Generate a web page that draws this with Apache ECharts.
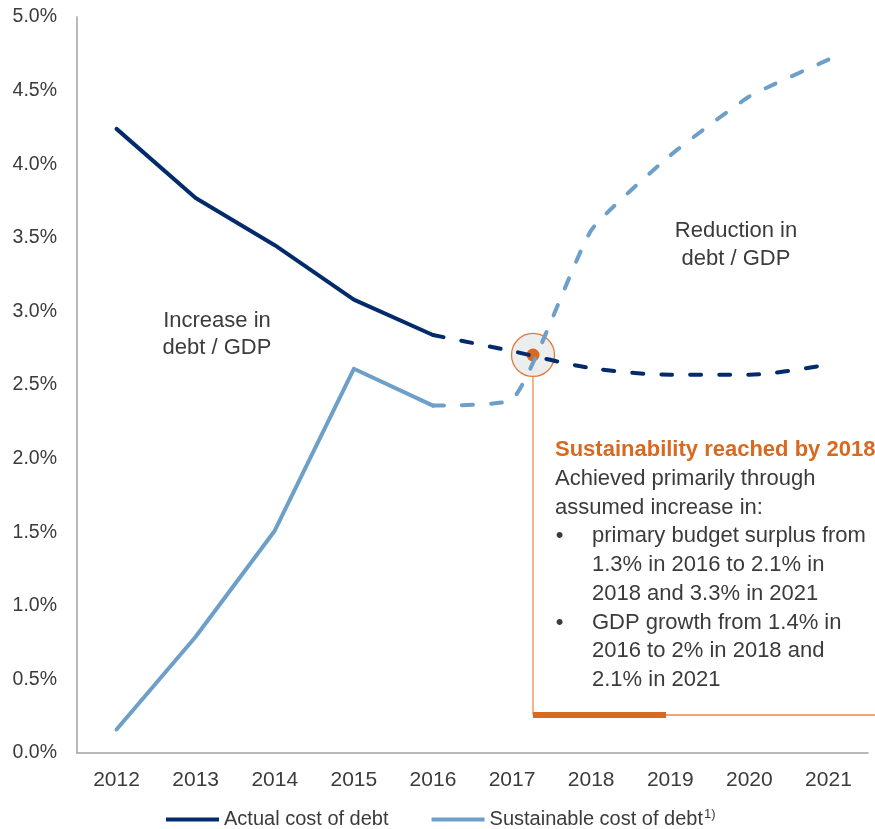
<!DOCTYPE html>
<html>
<head>
<meta charset="utf-8">
<title>Actual vs sustainable cost of debt</title>
<script src="https://cdn.jsdelivr.net/npm/echarts@6/dist/echarts.min.js"></script>
<style>
  html, body { margin: 0; padding: 0; background: #ffffff; }
  #chart { width: 875px; height: 829px; }
</style>
</head>
<body>
<div id="chart"></div>
<script>
// Years on the horizontal axis
const years = ['2012', '2013', '2014', '2015', '2016', '2017', '2018', '2019', '2020', '2021'];

// Cost of debt, % — observed part (solid) and projection (dashed)
const actualHistory      = [4.24, 3.77, 3.45, 3.08, 2.84, null, null, null, null, null];
const actualProjection   = [null, null, null, null, 2.84, 2.73, 2.615, 2.57, 2.57, 2.64];
const sustainableHistory = [0.16, 0.79, 1.51, 2.61, 2.36, null, null, null, null, null];
const sustainableProjection = [null, null, null, null, 2.36, 2.40, 3.55, 4.06, 4.46, 4.71];

// Point where the two curves cross (year, %)
const crossover = [2017.265, 2.704];

// Y axis range, %
const yMin = 0, yMax = 5, yStep = 0.5;

const NAVY = '#032B6B';
const SKY = '#6E9FC9';
const ORANGE = '#D8691F';
const ORANGE_LIGHT = '#F3B68A';
const ORANGE_MID = '#E8894A';
const TEXT = '#3B3B3B';
const FONT = '"Liberation Sans", Arial, sans-serif';

// Callout frame below the crossover
const calloutBaseline = 0.258;
const calloutRight = 2021.75;
const calloutAccentEnd = 2018.947;

const chart = echarts.init(document.getElementById('chart'), null, { renderer: 'canvas' });

const dashed = [11, 18];

// Stem, base line and accent bar of the callout, placed in data coordinates
function renderCallout(params, api) {
  const top = api.coord([crossover[0], crossover[1]]);
  const corner = api.coord([crossover[0], calloutBaseline]);
  const right = api.coord([calloutRight, calloutBaseline]);
  const accent = api.coord([calloutAccentEnd, calloutBaseline]);
  return {
    type: 'group',
    children: [
      {
        type: 'line',
        shape: { x1: top[0], y1: top[1], x2: corner[0], y2: corner[1] },
        style: { stroke: ORANGE_LIGHT, lineWidth: 2 }
      },
      {
        type: 'line',
        shape: { x1: corner[0], y1: corner[1], x2: right[0], y2: right[1] },
        style: { stroke: ORANGE_MID, lineWidth: 1.5 }
      },
      {
        type: 'line',
        shape: { x1: corner[0], y1: corner[1], x2: accent[0], y2: accent[1] },
        style: { stroke: ORANGE, lineWidth: 6, lineCap: 'butt' }
      }
    ]
  };
}

chart.setOption({
  animation: false,
  backgroundColor: '#ffffff',
  textStyle: { fontFamily: FONT },
  grid: { left: 77, right: 7, top: 17, bottom: 76, containLabel: false },
  xAxis: [
    {
      type: 'category',
      data: years,
      boundaryGap: true,
      axisLine: { show: true, lineStyle: { color: '#A3A3A3', width: 1.5 } },
      axisTick: { show: false },
      axisLabel: { color: TEXT, fontSize: 21, fontFamily: FONT, margin: 17 },
      splitLine: { show: false }
    },
    {
      type: 'value',
      min: 2011.5,
      max: 2021.5,
      show: false
    }
  ],
  yAxis: {
    type: 'value',
    min: yMin,
    max: yMax,
    interval: yStep,
    axisLine: { show: true, lineStyle: { color: '#A3A3A3', width: 1.5 } },
    axisTick: { show: false },
    splitLine: { show: false },
    axisLabel: {
      color: TEXT,
      fontSize: 19.5,
      fontFamily: FONT,
      margin: 20,
      formatter: v => v.toFixed(1) + '%'
    }
  },
  legend: {
    left: 166,
    top: 808,
    padding: 0,
    icon: 'rect',
    itemWidth: 53,
    itemHeight: 4,
    itemGap: 43,
    data: ['Actual cost of debt', 'Sustainable cost of debt'],
    textStyle: {
      color: TEXT,
      fontSize: 20,
      fontFamily: FONT,
      rich: {
        sup: { fontSize: 13, fontFamily: FONT, color: TEXT, verticalAlign: 'top', padding: [0, 0, 10, 1] }
      }
    },
    formatter: name => name === 'Sustainable cost of debt' ? name + '{sup|1)}' : name
  },
  graphic: [
    {
      type: 'text',
      style: {
        x: 217, y: 334, text: 'Increase in\ndebt / GDP',
        font: '22px ' + FONT, fill: TEXT, align: 'center', verticalAlign: 'middle', lineHeight: 27
      }
    },
    {
      type: 'text',
      style: {
        x: 736, y: 245, text: 'Reduction in\ndebt / GDP',
        font: '22px ' + FONT, fill: TEXT, align: 'center', verticalAlign: 'middle', lineHeight: 28
      }
    },
    {
      type: 'text',
      style: {
        x: 555, y: 450, text: 'Sustainability reached by 2018',
        font: 'bold 22px ' + FONT, fill: ORANGE, align: 'left', verticalAlign: 'middle'
      }
    },
    {
      type: 'text',
      style: {
        x: 555, y: 465, text: 'Achieved primarily through\nassumed increase in:',
        font: '22px ' + FONT, fill: TEXT, align: 'left', verticalAlign: 'top', lineHeight: 28.7
      }
    },
    {
      type: 'text',
      style: {
        x: 559.5, y: 522, text: '•\n\n\n•',
        font: '22px ' + FONT, fill: TEXT, align: 'center', verticalAlign: 'top', lineHeight: 28.7
      }
    },
    {
      type: 'text',
      style: {
        x: 592, y: 522,
        text: 'primary budget surplus from\n1.3% in 2016 to 2.1% in\n2018 and 3.3% in 2021\nGDP growth from 1.4% in\n2016 to 2% in 2018 and\n2.1% in 2021',
        font: '22px ' + FONT, fill: TEXT, align: 'left', verticalAlign: 'top', lineHeight: 28.7
      }
    }
  ],
  series: [
    // Callout frame from the crossover down to the base line
    {
      name: 'callout',
      type: 'custom',
      xAxisIndex: 1,
      silent: true,
      clip: false,
      renderItem: renderCallout,
      data: [crossover]
    },
    // Crossover marker
    {
      name: 'crossover-ring',
      type: 'scatter',
      xAxisIndex: 1,
      silent: true,
      symbol: 'circle',
      symbolSize: 43,
      itemStyle: { color: '#EBEDEE', borderColor: '#E07B39', borderWidth: 1.3, opacity: 1 },
      data: [crossover]
    },
    {
      name: 'crossover-dot',
      type: 'scatter',
      xAxisIndex: 1,
      silent: true,
      symbol: 'circle',
      symbolSize: 13,
      itemStyle: { color: ORANGE, opacity: 1 },
      data: [crossover]
    },
    // Actual cost of debt
    {
      name: 'Actual cost of debt',
      type: 'line',
      color: NAVY,
      symbol: 'none',
      lineStyle: { color: NAVY, width: 4, join: 'round', cap: 'round' },
      data: actualHistory
    },
    {
      name: 'Actual cost of debt (projection)',
      type: 'line',
      color: NAVY,
      symbol: 'none',
      smooth: 0.3,
      lineStyle: { color: NAVY, width: 4, type: dashed, cap: 'round' },
      data: actualProjection
    },
    // Sustainable cost of debt
    {
      name: 'Sustainable cost of debt',
      type: 'line',
      color: SKY,
      symbol: 'none',
      lineStyle: { color: SKY, width: 4, join: 'round', cap: 'round' },
      data: sustainableHistory
    },
    {
      name: 'Sustainable cost of debt (projection)',
      type: 'line',
      color: SKY,
      symbol: 'none',
      smooth: 0.15,
      lineStyle: { color: SKY, width: 4, type: dashed, cap: 'round' },
      data: sustainableProjection
    }
  ]
});
</script>
</body>
</html>
